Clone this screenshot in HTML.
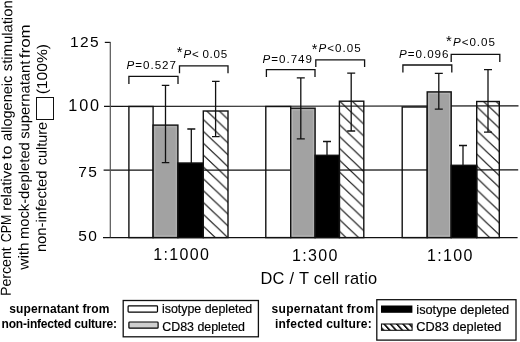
<!DOCTYPE html>
<html><head><meta charset="utf-8">
<style>
html,body{margin:0;padding:0;background:#fff;width:520px;height:342px;overflow:hidden}
svg{display:block;will-change:transform}
text{font-family:"Liberation Sans",sans-serif;fill:#000}
.lg text{stroke:#000;stroke-width:0.2}
</style></head>
<body>
<svg width="520" height="342" viewBox="0 0 520 342">
<defs>
<pattern id="h10" patternUnits="userSpaceOnUse" width="12.47" height="11.85" patternTransform="translate(203.3,119.5)"><path d="M-1.2,-1.140 L13.670,12.990 M-1.2,10.710 L1.2,12.990 M11.270,-1.140 L13.670,1.140" stroke="#111" stroke-width="1.15"/></pattern>
<pattern id="h11" patternUnits="userSpaceOnUse" width="12.47" height="11.85" patternTransform="translate(339.4,100.9)"><path d="M-1.2,-1.140 L13.670,12.990 M-1.2,10.710 L1.2,12.990 M11.270,-1.140 L13.670,1.140" stroke="#111" stroke-width="1.15"/></pattern>
<pattern id="h12" patternUnits="userSpaceOnUse" width="12.47" height="11.85" patternTransform="translate(476.7,106.7)"><path d="M-1.2,-1.140 L13.670,12.990 M-1.2,10.710 L1.2,12.990 M11.270,-1.140 L13.670,1.140" stroke="#111" stroke-width="1.15"/></pattern>

</defs>

<!-- y-axis label -->
<g font-size="14.5">
<text transform="translate(10.69,295.97) rotate(-89.65)" textLength="48.74" lengthAdjust="spacingAndGlyphs">Percent</text>
<text transform="translate(11.00,242.20) rotate(-89.65)" textLength="27.44" lengthAdjust="spacingAndGlyphs">CPM</text>
<text transform="translate(11.18,210.83) rotate(-89.65)" textLength="48.30" lengthAdjust="spacingAndGlyphs">relative</text>
<text transform="translate(11.48,159.43) rotate(-89.65)" textLength="13.70" lengthAdjust="spacingAndGlyphs">to</text>
<text transform="translate(11.59,141.10) rotate(-89.65)" textLength="65.40" lengthAdjust="spacingAndGlyphs">allogeneic</text>
<text transform="translate(11.99,71.21) rotate(-89.65)" textLength="70.84" lengthAdjust="spacingAndGlyphs">stimulation</text>
<text transform="translate(28.49,269.70) rotate(-89.65)" textLength="27.35" lengthAdjust="spacingAndGlyphs">with</text>
<text transform="translate(28.67,239.12) rotate(-89.65)" textLength="96.94" lengthAdjust="spacingAndGlyphs">mock-depleted</text>
<text transform="translate(29.25,138.81) rotate(-89.65)" textLength="78.19" lengthAdjust="spacingAndGlyphs">supernatant</text>
<text transform="translate(29.72,58.13) rotate(-89.65)" textLength="33.69" lengthAdjust="spacingAndGlyphs">from</text>
<text transform="translate(45.99,252.12) rotate(-89.65)" textLength="81.55" lengthAdjust="spacingAndGlyphs">non-infected</text>
<text transform="translate(46.49,165.30) rotate(-89.65)" textLength="43.31" lengthAdjust="spacingAndGlyphs">culture</text>
<text transform="translate(46.90,94.37) rotate(-89.65)" textLength="50.38" lengthAdjust="spacingAndGlyphs">(100%)</text>
</g>
<rect x="36.5" y="97.5" width="17" height="22" fill="#fff" stroke="#111" stroke-width="1"/>

<!-- tick labels -->
<g font-size="15.5" letter-spacing="1.3">
<text x="70.1" y="47.3">125</text>
<text x="68.3" y="111.3" font-size="16.2" letter-spacing="1.9">100</text>
<text x="78.3" y="176.6">75</text>
<text x="78.3" y="241.3">50</text>
</g>

<!-- grid/axis -->
<g stroke="#111" stroke-width="1.2" fill="none">
<line x1="104" y1="106.4" x2="518.5" y2="105.95"/>
<line x1="103.6" y1="170.2" x2="518.2" y2="169.9"/>
<line x1="103" y1="237.6" x2="517.6" y2="237.6"/>
<line x1="104.8" y1="42.4" x2="110.5" y2="42.4"/>
</g>
<line x1="110.3" y1="42" x2="110.3" y2="237.3" stroke="#555" stroke-width="1.2"/>

<!-- group 1 -->
<g stroke="#111" stroke-width="1.4">
<rect x="128.9" y="106.5" width="24.2" height="131.1" fill="none"/>
<rect x="153.1" y="125.1" width="24.8" height="112.5" fill="#a2a2a2"/>
<rect x="177.9" y="163" width="25.4" height="74.6" fill="#000"/>
<rect x="203.3" y="111" width="24.7" height="126.6" fill="url(#h10)"/>
</g>

<!-- group 2 -->
<g stroke="#111" stroke-width="1.4">
<rect x="265.8" y="106.5" width="24.9" height="131.1" fill="none"/>
<rect x="290.7" y="108.2" width="24.4" height="129.4" fill="#a2a2a2"/>
<rect x="315.1" y="155.3" width="24.3" height="82.3" fill="#000"/>
<rect x="339.4" y="101.2" width="24.4" height="136.4" fill="url(#h11)"/>
</g>

<!-- group 3 -->
<g stroke="#111" stroke-width="1.4">
<rect x="402.2" y="107" width="25" height="130.6" fill="none"/>
<rect x="427.2" y="91.9" width="24" height="145.7" fill="#a2a2a2"/>
<rect x="451.2" y="165.3" width="25.5" height="72.3" fill="#000"/>
<rect x="476.7" y="101.5" width="22.6" height="136.1" fill="url(#h12)"/>
</g>

<g fill="none" stroke="#b4b4b4" stroke-width="1">
<rect x="154.8" y="126.8" width="21.4" height="109.1"/>
<rect x="292.4" y="109.9" width="21.0" height="126.0"/>
<rect x="428.9" y="93.6" width="20.6" height="142.3"/>
</g>
<!-- error bars -->
<g stroke="#111" stroke-width="1.3" fill="none">
<path d="M165.5,85.3 V162.7 M161.8,85.3 H169.3 M161.8,162.7 H169.3"/>
<path d="M191.3,129 V163 M187.3,129 H195.3"/>
<path d="M215.6,81.3 V136.7 M212,81.3 H219.6 M212,136.7 H219.6"/>

<path d="M300.8,77.8 V138.8 M296.8,77.8 H304.8 M296.8,138.8 H304.8"/>
<path d="M327,141.5 V155.3 M323,141.5 H331"/>
<path d="M351.2,73.1 V131 M347.2,73.1 H355.2 M347.2,131 H355.2"/>

<path d="M438.8,73.3 V109.1 M434.8,73.3 H442.8 M434.8,109.1 H442.8"/>
<path d="M463,145.5 V165.3 M459,145.5 H467"/>
<path d="M488,69.7 V132.2 M484,69.7 H492 M484,132.2 H492"/>
</g>

<!-- brackets -->
<g stroke="#111" stroke-width="1.3" fill="none">
<path d="M128.9,84 V76.3 H178 V84"/>
<path d="M179.5,73.3 V65.9 H228 V73.3"/>
<path d="M266.4,77 V69.6 H315 V77"/>
<path d="M315.8,67 V59.8 H364.6 V67"/>
<path d="M402.9,72.6 V65 H451.8 V72.6"/>
<path d="M451.2,62 V54.4 H499.8 V62"/>
</g>

<!-- p-values -->
<g font-size="11.6" letter-spacing="1">
<text x="126.5" y="69.1"><tspan font-style="italic">P</tspan>=0.527</text>
<text x="262.5" y="62.8"><tspan font-style="italic">P</tspan>=0.749</text>
<text x="399" y="58.1"><tspan font-style="italic">P</tspan>=0.096</text>
<text x="183.5" y="57.8" letter-spacing="0.7"><tspan font-style="italic">P</tspan>&lt;&#8201;0.05</text>
<text x="318.6" y="52.4"><tspan font-style="italic">P</tspan>&lt;0.05</text>
<text x="452.9" y="45.7"><tspan font-style="italic">P</tspan>&lt;0.05</text>
</g>
<g font-size="14.7">
<text x="176.7" y="57">*</text>
<text x="311.8" y="54.2">*</text>
<text x="446" y="45.9">*</text>
</g>

<!-- x labels -->
<g font-size="16" letter-spacing="1.35">
<text x="153.2" y="260.2">1:1000</text>
<text x="292" y="260.5">1:300</text>
<text x="427" y="260.9">1:100</text>
</g>
<text x="260.5" y="283.8" font-size="16.4" letter-spacing="0.27">DC / T cell ratio</text>

<!-- legends -->
<g font-size="12" font-weight="bold">
<text x="9.3" y="313" letter-spacing="0.1">supernatant from</text>
<text x="1.6" y="328" letter-spacing="-0.2">non-infected culture:</text>
<text x="271.6" y="312.9" letter-spacing="0.27">supernatant from</text>
<text x="275" y="328.2" letter-spacing="0.21">infected culture:</text>
</g>
<rect x="123.2" y="300.5" width="135.2" height="36.3" fill="none" stroke="#111" stroke-width="1.3"/>
<rect x="376.8" y="299.7" width="139.2" height="40.4" fill="none" stroke="#111" stroke-width="1.3"/>
<rect x="128.1" y="305.9" width="29.4" height="6.2" rx="0.8" fill="#fff" stroke="#000" stroke-width="1.2"/>
<rect x="128.9" y="322" width="29.2" height="6.2" rx="0.8" fill="#cfcfcf" stroke="#000" stroke-width="1.2"/>
<rect x="381" y="305.5" width="31.4" height="7.3" fill="#000"/>
<rect x="381.5" y="324" width="30.6" height="6.3" fill="url(#h2)" stroke="#111" stroke-width="1.1"/>
<defs>
<pattern id="h2" patternUnits="userSpaceOnUse" width="6.3" height="7" patternTransform="translate(383,324) skewX(42)">
<rect x="0" y="0" width="2.3" height="7" fill="#111"/>
</pattern>
</defs>
<g font-size="12.4" class="lg">
<text x="162" y="313.4">isotype depleted</text>
<text x="162.3" y="330.8">CD83 depleted</text>
<text x="416.3" y="313.8" font-size="12.75">isotype depleted</text>
<text x="416.3" y="331.1" font-size="12.75">CD83 depleted</text>
</g>
</svg>
</body></html>
